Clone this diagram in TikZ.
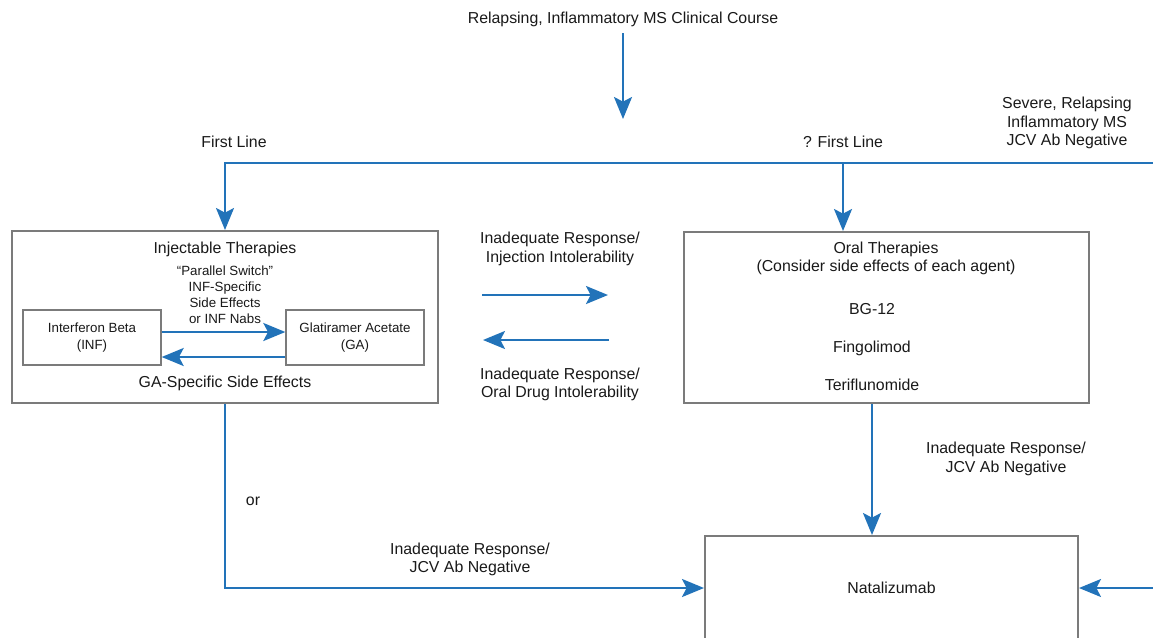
\documentclass[tikz,border=0pt]{standalone}
\usepackage{fontspec}
\setmainfont{Liberation Sans}
\usetikzlibrary{arrows.meta}

\definecolor{azul}{HTML}{2273B9}
\definecolor{gris}{HTML}{7B7B7B}

\begin{document}
\begin{tikzpicture}[x=0.75pt, y=-0.75pt, every node/.style={font=\fontsize{11.9}{14}\selectfont, align=center, text=black!90},
  caja/.style={draw=gris, line width=1.5pt, inner sep=0pt},
  cajita/.style={caja, minimum width=103pt, minimum height=41pt, font=\fontsize{10}{13}\selectfont},
  chico/.style={font=\fontsize{10}{12}\selectfont},
  flecha/.style={-{Stealth[length=16.5pt, width=13.5pt, inset=3.5pt]}, draw=azul, line width=1.8pt}]
\useasboundingbox (0,0) rectangle (1153,637);
\clip (0,0) rectangle (1153,637);
% cajas
\node[caja, minimum width=319.5pt, minimum height=129pt] (iny) at (225,317) {};
\node[caja, minimum width=303.75pt, minimum height=128.25pt] (oral) at (886.5,317.5) {};
\node[caja, minimum width=279.75pt, minimum height=78pt] (nat) at (891.5,588) {Natalizumab};
\node[cajita] (inf) at (92,337.5) {Interferon Beta\\(INF)};
\node[cajita] (ga) at (355,337.5) {Glatiramer Acetate\\(GA)};
% textos
\node (tit) at (623,19) {Relapsing, Inflammatory MS Clinical Course};
\node (pl) at (234,142) {First Line};
\node (pl2) at (843,142) {? First Line};
\node (sev) at (1067,123) {Severe, Relapsing\\Inflammatory MS\\JCV Ab Negative};
\node (injt) at (225,249) {Injectable Therapies};
\node[chico] (par) at (225,294.5) {“Parallel Switch”\\INF-Specific\\Side Effects\\or INF Nabs};
\node (gase) at (225,383) {GA-Specific Side Effects};
\node (ir1) at (560,249) {Inadequate Response/\\Injection Intolerability};
\node (ir2) at (560,384.5) {Inadequate Response/\\Oral Drug Intolerability};
\node (oralt) at (886,258.5) {Oral Therapies\\(Consider side effects of each agent)};
\node (bg) at (872,309) {BG-12};
\node (fin) at (872,348) {Fingolimod};
\node (ter) at (872,385) {Teriflunomide};
\node (ir3) at (1006,459) {Inadequate Response/\\JCV Ab Negative};
\node (or) at (253,501) {or};
\node (ir4) at (470,559.5) {Inadequate Response/\\JCV Ab Negative};
% puntos
\coordinate (t1) at (623,33);
\coordinate (t2) at (623,119);
\coordinate (der) at (1160,163);
\coordinate (q) at (843,163);
\coordinate (y1) at (0,332);
\coordinate (y2) at (0,357);
\coordinate (m1) at (482,295);
\coordinate (m2) at (608,295);
\coordinate (m3) at (609,340);
\coordinate (m4) at (483,340);
\coordinate (c4) at (872,0);
\coordinate (der2) at (1160,588);
% flechas
\draw[flecha] (t1) -- (t2);
\draw[flecha] (der) -| (iny.north);
\draw[flecha] (q) -- (q |- oral.north);
\draw[flecha] (inf.east |- y1) -- (ga.west |- y1);
\draw[flecha] (ga.west |- y2) -- (inf.east |- y2);
\draw[flecha] (m1) -- (m2);
\draw[flecha] (m3) -- (m4);
\draw[flecha] (c4 |- oral.south) -- (c4 |- nat.north);
\draw[flecha] (iny.south) |- (nat.west);
\draw[flecha] (der2) -- (nat.east);
\end{tikzpicture}
\end{document}
